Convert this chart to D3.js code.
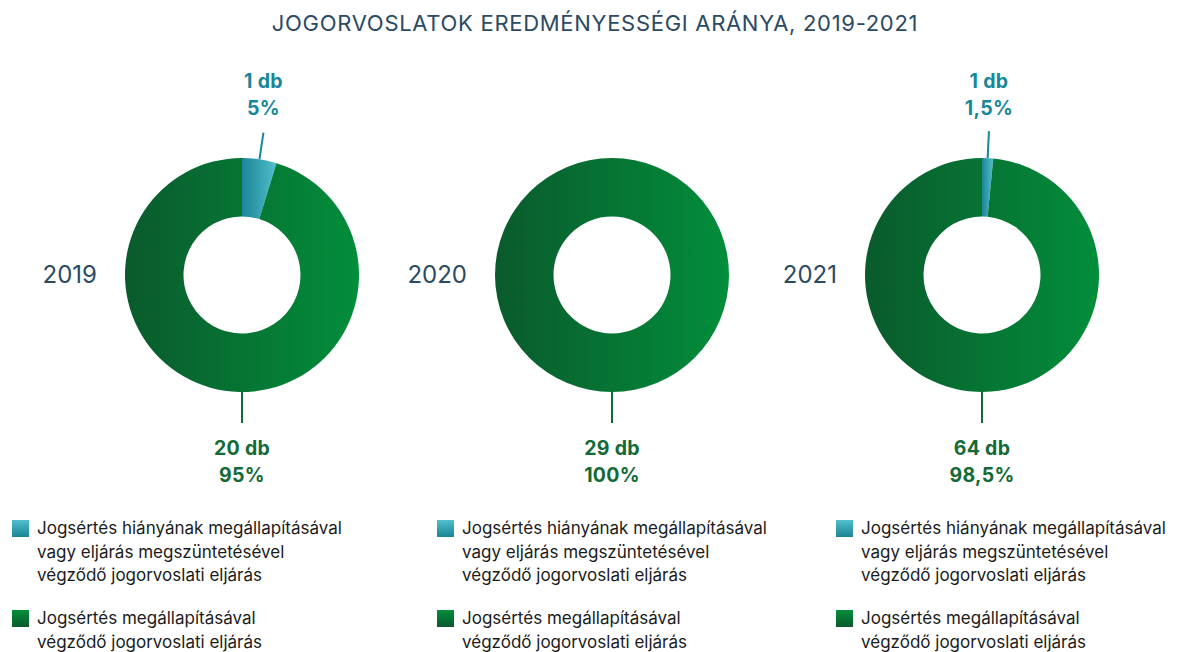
<!DOCTYPE html>
<html><head><meta charset="utf-8">
<script src="https://cdn.jsdelivr.net/npm/d3@7"></script>
<style>
html,body{margin:0;padding:0;background:#fff;}
svg{display:block;font-family:Inter, "Noto Sans", sans-serif;}
</style></head>
<body><svg id="c" width="1184" height="652"></svg>
<script>
const title = "JOGORVOSLATOK EREDMÉNYESSÉGI ARÁNYA, 2019-2021";
const years = ["2019", "2020", "2021"];
const noInfringement = [1, 0, 1];
const infringement = [20, 29, 64];
const noInfringementPct = ["5%", "", "1,5%"];
const infringementPct = ["95%", "100%", "98,5%"];
const legendLabels = [
  ["Jogsértés hiányának megállapításával", "vagy eljárás megszüntetésével", "végződő jogorvoslati eljárás"],
  ["Jogsértés megállapításával", "végződő jogorvoslati eljárás"]
];

const svg = d3.select("#c");
const navy = "#2b4a63";
const teal = "#17879a";
const dgreen = "#136a38";

svg.append("text").attr("x", 595).attr("y", 31).attr("text-anchor", "middle")
  .attr("font-size", 22).attr("letter-spacing", 0.7).attr("fill", navy).text(title);

const defs = svg.append("defs");
const tg = defs.append("linearGradient").attr("id", "tealG").attr("x1", 0).attr("x2", 1).attr("y1", 0).attr("y2", 0);
tg.append("stop").attr("offset", 0).attr("stop-color", "#1a8596");
tg.append("stop").attr("offset", 1).attr("stop-color", "#52bfcc");

const xCenter = d3.scalePoint().domain(years).range([242, 982]);
const cy = 275, R = 117, r0 = 58.5;
const pie = d3.pie().sort(null).value(d => d.v);
const arc = d3.arc().innerRadius(r0).outerRadius(R);
const legendX = [12, 437, 836];

years.forEach((y, i) => {
  const cx = xCenter(y);
  const gg = defs.append("linearGradient").attr("id", "greenG" + i).attr("gradientUnits", "userSpaceOnUse")
    .attr("x1", -R).attr("x2", R).attr("y1", 0).attr("y2", 0);
  gg.append("stop").attr("offset", 0).attr("stop-color", "#0a5a2c");
  gg.append("stop").attr("offset", 1).attr("stop-color", "#028e3b");

  const g = svg.append("g").attr("transform", `translate(${cx},${cy})`);
  const data = [{k: "a", v: noInfringement[i]}, {k: "b", v: infringement[i]}];
  const arcs = pie(data);
  g.selectAll("path").data(arcs.filter(d => d.data.v > 0)).join("path")
    .attr("d", arc)
    .attr("fill", d => d.data.k === "a" ? "url(#tealG)" : `url(#greenG${i})`);

  svg.append("text").attr("x", cx - 145).attr("y", cy + 8).attr("text-anchor", "end")
    .attr("font-size", 24).attr("fill", navy).text(y);

  if (noInfringement[i] > 0) {
    const a = arcs[0];
    const m = (a.startAngle + a.endAngle) / 2;
    const p = rr => [Math.sin(m) * rr, -Math.cos(m) * rr];
    const [x1, y1] = p(R), [x2, y2] = p(R + 27);
    g.append("line").attr("x1", x1).attr("y1", y1).attr("x2", x2).attr("y2", y2)
      .attr("stroke", teal).attr("stroke-width", 2);
    const t = g.append("text").attr("text-anchor", "middle").attr("font-size", 19.5)
      .attr("font-weight", 700).attr("letter-spacing", 0.3).attr("fill", teal);
    t.append("tspan").attr("x", x2).attr("y", -187).text(noInfringement[i] + " db");
    t.append("tspan").attr("x", x2).attr("y", -160).text(noInfringementPct[i]);
  }
  g.append("line").attr("x1", 0).attr("x2", 0).attr("y1", R).attr("y2", R + 31)
    .attr("stroke", dgreen).attr("stroke-width", 2);
  const tb = g.append("text").attr("text-anchor", "middle").attr("font-size", 19.5)
    .attr("font-weight", 700).attr("letter-spacing", 0.3).attr("fill", dgreen);
  tb.append("tspan").attr("x", 0).attr("y", 180).text(infringement[i] + " db");
  tb.append("tspan").attr("x", 0).attr("y", 207).text(infringementPct[i]);

  const lg = svg.append("g").attr("transform", `translate(${legendX[i]},0)`);
  const tops = [520, 610];
  legendLabels.forEach((lines, j) => {
    const sg = defs.append("linearGradient").attr("id", `sw${i}_${j}`).attr("x1", 0).attr("x2", 0).attr("y1", 1).attr("y2", 0);
    sg.append("stop").attr("offset", 0).attr("stop-color", j === 0 ? "#1a8596" : "#0a5a2c");
    sg.append("stop").attr("offset", 1).attr("stop-color", j === 0 ? "#52bfcc" : "#028e3b");
    lg.append("rect").attr("x", 0).attr("y", tops[j]).attr("width", 17).attr("height", 17)
      .attr("fill", `url(#sw${i}_${j})`);
    const lt = lg.append("text").attr("font-size", 17).attr("fill", "#1b1b1b");
    lines.forEach((ln, k) => {
      lt.append("tspan").attr("x", 25).attr("y", tops[j] + 14 + k * 23.5).text(ln);
    });
  });
});
</script></body></html>
